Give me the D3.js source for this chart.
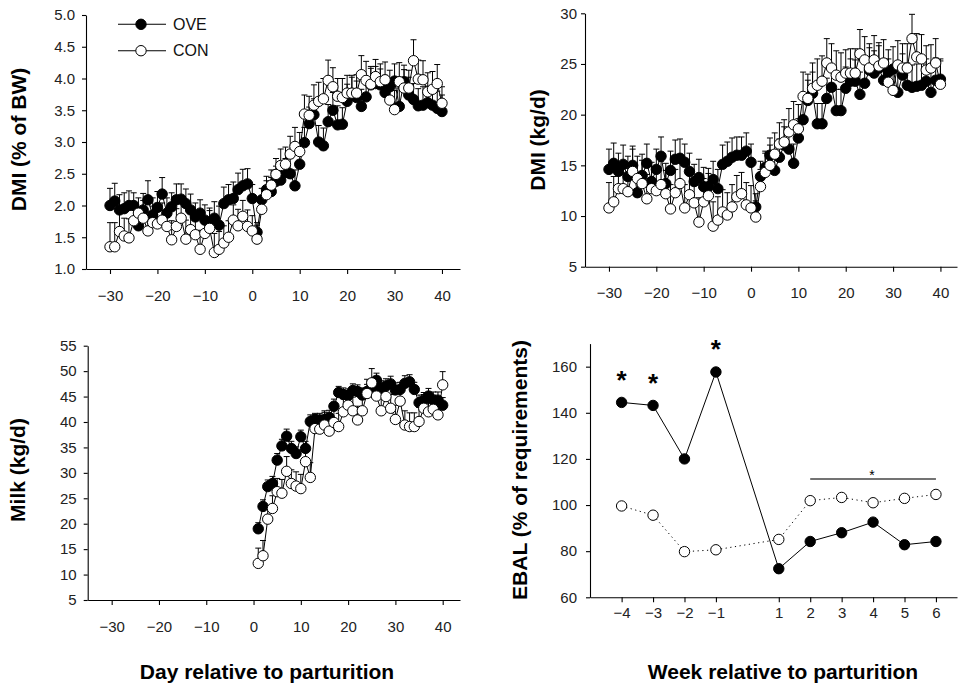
<!DOCTYPE html>
<html>
<head>
<meta charset="utf-8">
<script src="https://cdn.jsdelivr.net/npm/d3@7"></script>
<style>
  html, body { margin: 0; padding: 0; background: #fff; }
  svg { display: block; font-family: "Liberation Sans", Arial, Helvetica, sans-serif; }
  .tick text { fill: #222; }
</style>
</head>
<body>
<svg id="chart" width="958" height="684"></svg>
<script>
// Days relative to parturition
const daysAll = d3.range(-30, 41);   // -30 .. 40
const daysPost = d3.range(1, 41);    // 1 .. 40

// DMI, % of body weight
const dmiPctOVE = [
  2.00,2.07,1.93,1.95,2.00,2.00,1.68,1.93,2.09,1.85,
  1.97,2.18,1.88,1.98,2.09,2.10,2.03,1.93,1.82,1.88,
  1.77,1.74,1.80,1.69,2.03,2.09,2.11,2.25,2.31,2.34,
  2.11,1.58,2.09,2.25,2.22,2.38,2.40,2.52,2.50,2.31,
  2.65,2.99,3.29,3.43,3.00,2.94,3.32,3.50,3.27,3.28,
  3.64,3.75,3.70,3.56,3.71,3.90,3.92,3.90,3.78,3.87,
  3.96,3.56,3.95,3.74,3.67,3.57,3.58,3.62,3.58,3.53,
  3.48];
const dmiPctCON = [
  1.35,1.35,1.59,1.52,1.49,1.76,1.88,1.80,1.60,1.73,
  1.71,1.77,1.67,1.46,1.67,1.80,1.47,1.62,1.54,1.31,
  1.56,1.64,1.26,1.31,1.41,1.50,1.77,1.68,1.83,1.67,
  1.60,1.47,1.94,2.17,2.32,2.49,2.63,2.65,2.81,2.93,
  2.85,3.44,3.42,3.58,3.64,3.68,3.97,3.87,3.72,3.70,
  3.77,3.77,3.77,4.06,3.97,3.91,4.03,3.95,3.98,3.66,
  3.51,3.95,3.85,3.85,4.28,3.99,3.98,3.79,3.83,3.92,
  3.61];
const dmiPctSeOVE = [
  0.27,0.28,0.24,0.25,0.23,0.20,0.24,0.26,0.30,0.27,
  0.25,0.26,0.24,0.22,0.25,0.24,0.23,0.25,0.22,0.21,
  0.24,0.22,0.26,0.30,0.26,0.24,0.26,0.26,0.26,0.24,
  0.22,0.15,0.18,0.21,0.22,0.24,0.23,0.22,0.24,0.25,
  0.22,0.24,0.26,0.25,0.26,0.28,0.27,0.28,0.30,0.26,
  0.27,0.27,0.26,0.27,0.28,0.26,0.27,0.25,0.27,0.26,
  0.27,0.29,0.26,0.28,0.25,0.27,0.29,0.26,0.28,0.27,
  0.26];
const dmiPctSeCON = [
  0.38,0.38,0.30,0.28,0.30,0.26,0.24,0.28,0.30,0.26,
  0.28,0.27,0.26,0.30,0.28,0.26,0.30,0.27,0.28,0.30,
  0.26,0.28,0.30,0.28,0.27,0.26,0.24,0.26,0.25,0.26,
  0.24,0.22,0.20,0.22,0.24,0.25,0.26,0.27,0.28,0.30,
  0.30,0.30,0.30,0.32,0.30,0.32,0.32,0.30,0.28,0.30,
  0.28,0.28,0.29,0.30,0.30,0.28,0.27,0.28,0.28,0.30,
  0.30,0.30,0.29,0.28,0.33,0.30,0.30,0.30,0.28,0.30,
  0.26];

// DMI, kg/d
const dmiKgOVE = [
  14.6,15.2,14.4,15.1,13.9,15.0,12.3,14.0,15.2,13.4,
  14.6,15.9,13.2,14.5,15.6,15.7,15.3,14.4,13.4,13.8,
  12.9,12.9,13.6,12.7,15.1,15.4,15.8,16.0,16.0,16.4,
  15.3,10.9,13.9,14.8,16.0,14.5,15.8,17.0,16.6,15.2,
  17.7,19.5,21.4,22.1,19.1,19.1,21.6,22.7,20.4,20.4,
  22.6,23.3,23.3,22.0,23.1,24.4,24.1,24.6,23.4,24.2,
  24.5,22.2,23.9,22.9,22.7,22.8,22.9,23.3,22.2,23.4,
  23.5];
const dmiKgCON = [
  10.8,11.4,12.7,12.7,12.4,14.4,13.7,13.2,11.7,12.7,
  12.5,13.1,12.2,10.7,12.3,13.2,10.8,12.1,11.3,9.4,
  11.4,12.0,9.0,9.6,10.4,10.1,10.9,11.9,12.2,11.1,
  10.8,9.9,12.9,14.3,15.0,16.1,17.1,17.3,18.3,19.0,
  18.6,21.8,21.6,22.6,22.9,23.3,25.1,24.6,23.9,23.7,
  24.1,24.1,24.1,26.0,25.4,24.6,25.4,24.8,25.1,23.2,
  22.4,24.9,24.6,24.6,27.5,25.7,25.5,24.4,24.6,25.1,
  23.0];
const dmiKgSeOVE = [
  2.0,2.0,1.8,1.9,2.0,1.9,2.0,2.1,1.9,1.9,
  2.0,1.9,2.0,1.9,1.9,1.9,1.8,1.8,1.7,1.8,
  1.9,1.8,1.8,1.9,1.9,1.9,1.9,1.8,1.8,1.8,
  1.8,1.3,1.5,1.6,1.7,1.8,1.8,1.8,1.9,1.9,
  1.9,1.9,2.0,2.1,2.0,2.0,2.0,2.1,2.1,2.1,
  2.1,2.2,2.1,2.2,2.2,2.2,2.2,2.2,2.1,2.2,
  2.2,2.2,2.1,2.2,2.2,2.2,2.2,2.2,2.1,2.2,
  2.0];
const dmiKgSeCON = [
  2.5,2.5,2.3,2.2,2.3,2.2,2.2,2.3,2.4,2.2,
  2.2,2.3,2.3,2.4,2.3,2.2,2.3,2.2,2.3,2.4,
  2.3,2.2,2.4,2.3,2.2,2.2,2.2,2.1,2.1,2.2,
  2.2,1.6,1.7,1.9,2.0,2.1,2.1,2.2,2.3,2.3,
  2.4,2.4,2.4,2.5,2.6,2.5,2.4,2.4,2.4,2.4,
  2.3,2.4,2.4,2.4,2.3,2.4,2.4,2.3,2.3,2.3,
  2.3,2.4,2.4,2.4,2.4,2.3,2.4,2.4,2.3,2.4,
  2.3];

// Milk yield, kg/d (days 1..40)
const milkOVE = [
  19.0,23.4,27.3,27.9,32.5,35.3,37.2,34.8,33.8,37.1,
  34.8,40.1,40.5,40.4,40.5,40.9,43.1,45.8,45.4,45.2,
  46.2,46.0,45.3,46.0,46.6,48.2,46.6,47.1,47.5,46.3,
  46.4,47.6,47.9,46.4,43.8,44.3,45.1,44.3,44.3,43.3];
const milkCON = [
  12.2,13.7,20.9,23.0,26.3,26.0,30.3,27.9,27.4,26.9,
  32.2,29.1,38.7,38.6,39.4,38.2,39.9,39.1,42.0,43.3,
  42.2,40.4,42.2,45.6,47.7,45.1,42.2,45.0,42.7,40.5,
  44.1,39.4,39.1,39.1,40.1,42.7,42.0,42.5,41.4,47.3];
const milkSeOVE = [
  1.2,1.3,1.3,1.4,1.3,1.3,1.4,1.4,1.3,1.3,
  1.4,1.3,1.2,1.3,1.4,1.4,1.4,1.2,1.3,1.3,
  1.3,1.3,1.4,1.4,1.5,1.4,1.5,1.4,1.5,1.4,
  1.4,1.5,1.4,1.4,1.5,1.5,1.5,1.6,1.6,1.5];
const milkSeCON = [
  3.0,3.0,2.6,2.5,2.6,2.7,2.9,2.7,2.8,2.8,
  2.8,2.9,2.7,2.7,2.8,2.7,2.7,2.6,2.6,2.7,
  2.7,2.7,2.7,2.8,2.8,2.6,2.7,2.8,2.7,2.8,
  2.8,2.8,2.7,2.7,2.8,2.7,2.8,2.8,2.8,2.6];

// Energy balance by week
const weeks = [-4, -3, -2, -1, 1, 2, 3, 4, 5, 6];
const ebalOVE = [144.5, 143.2, 120.0, 157.7, 72.4, 84.2, 88.0, 92.6, 82.8, 84.2];
const ebalCON = [99.6, 95.6, 79.8, 80.6, 85.1, 101.9, 103.3, 101.0, 102.9, 104.6];
const starWeeks = [-4, -3, -1];

// Tick labels
const dayTicks = [-30, -20, -10, 0, 10, 20, 30, 40];
const dmiPctTicks = [1.0, 1.5, 2.0, 2.5, 3.0, 3.5, 4.0, 4.5, 5.0];
const dmiKgTicks = [5, 10, 15, 20, 25, 30];
const milkTicks = [5, 10, 15, 20, 25, 30, 35, 40, 45, 50, 55];
const ebalTicks = [60, 80, 100, 120, 140, 160];
const seriesNames = ["OVE", "CON"];

const svg = d3.select("#chart");
const R = 5.2;

function zip(xs, ys, se) {
  return xs.map((x, i) => ({ x, y: ys[i], se: se ? se[i] : 0 }));
}

function axes(g, x, y, o) {
  const xa = g.append("g")
    .attr("transform", `translate(0,${y.range()[0]})`)
    .call(d3.axisBottom(x).tickValues(o.xTicks).tickSize(5).tickSizeOuter(0)
      .tickPadding(o.xPad).tickFormat(d3.format("d")));
  const ya = g.append("g")
    .attr("transform", `translate(${x.range()[0]},0)`)
    .call(d3.axisLeft(y).tickValues(o.yTicks).tickSize(4).tickSizeOuter(0)
      .tickPadding(o.yPad).tickFormat(o.yFmt));
  [xa, ya].forEach(a => {
    a.selectAll("text").style("font-size", "15px");
    a.selectAll("path, line").attr("stroke", "#000").attr("stroke-width", 1.1);
  });
}

function series(g, x, y, pts, filled, dashed) {
  // upward error bars
  const eb = g.append("g").attr("stroke", "#000").attr("stroke-width", 1);
  pts.filter(p => p.se > 0).forEach(p => {
    const cx = x(p.x), y0 = y(p.y), y1 = y(p.y + p.se);
    eb.append("line").attr("x1", cx).attr("x2", cx).attr("y1", y0).attr("y2", y1);
    eb.append("line").attr("x1", cx - 3).attr("x2", cx + 3).attr("y1", y1).attr("y2", y1);
  });
  g.append("path").datum(pts)
    .attr("fill", "none").attr("stroke", "#000").attr("stroke-width", 1)
    .attr("stroke-dasharray", dashed ? "1.2,3.5" : null)
    .attr("d", d3.line().x(p => x(p.x)).y(p => y(p.y)));
  g.append("g").selectAll("circle").data(pts).join("circle")
    .attr("cx", p => x(p.x)).attr("cy", p => y(p.y)).attr("r", R)
    .attr("fill", filled ? "#000" : "#fff")
    .attr("stroke", "#000").attr("stroke-width", 1);
}

function yTitle(text, cx, cy) {
  svg.append("text")
    .attr("transform", `translate(${cx},${cy}) rotate(-90)`)
    .attr("text-anchor", "middle").attr("dy", "0.35em")
    .style("font-size", "21px").style("font-weight", "bold")
    .text(text);
}
function xTitle(text, cx, cy) {
  svg.append("text").attr("x", cx).attr("y", cy)
    .attr("text-anchor", "middle").attr("dy", "0.35em")
    .style("font-size", "21px").style("font-weight", "bold")
    .text(text);
}

// Panel: DMI (% of BW)
{
  const x = d3.scaleLinear().domain([-35.06, 43.8]).range([86, 460]);
  const y = d3.scaleLinear().domain([1, 5]).range([269, 15]);
  const g = svg.append("g");
  axes(g, x, y, { xTicks: dayTicks, yTicks: dmiPctTicks, xPad: 16, yPad: 7, yFmt: d3.format(".1f") });
  series(g, x, y, zip(daysAll, dmiPctOVE, dmiPctSeOVE), true, false);
  series(g, x, y, zip(daysAll, dmiPctCON, dmiPctSeCON), false, false);

  // legend
  const lg = svg.append("g");
  seriesNames.forEach((name, i) => {
    const ly = 24.3 + i * 26.4;
    lg.append("line").attr("x1", 118).attr("x2", 166).attr("y1", ly).attr("y2", ly)
      .attr("stroke", "#000").attr("stroke-width", 1.1);
    lg.append("circle").attr("cx", 141).attr("cy", ly).attr("r", R)
      .attr("fill", i === 0 ? "#000" : "#fff").attr("stroke", "#000");
    lg.append("text").attr("x", 173).attr("y", ly).attr("dy", "0.36em")
      .style("font-size", "16px").style("fill", "#111").text(name);
  });
  yTitle("DMI (% of BW)", 18.5, 139.5);
}

// Panel: DMI (kg/d)
{
  const x = d3.scaleLinear().domain([-35.06, 43.5]).range([585, 957]);
  const y = d3.scaleLinear().domain([5, 30]).range([266.7, 13.3]);
  const g = svg.append("g");
  axes(g, x, y, { xTicks: dayTicks, yTicks: dmiKgTicks, xPad: 16, yPad: 4, yFmt: d3.format("d") });
  series(g, x, y, zip(daysAll, dmiKgOVE, dmiKgSeOVE), true, false);
  series(g, x, y, zip(daysAll, dmiKgCON, dmiKgSeCON), false, false);
  yTitle("DMI (kg/d)", 538, 140);
}

// Panel: Milk (kg/d)
{
  const x = d3.scaleLinear().domain([-35.07, 43.66]).range([87.7, 460]);
  const y = d3.scaleLinear().domain([5, 55]).range([600, 345.7]);
  const g = svg.append("g");
  axes(g, x, y, { xTicks: dayTicks, yTicks: milkTicks, xPad: 16, yPad: 7, yFmt: d3.format("d") });
  series(g, x, y, zip(daysPost, milkOVE, milkSeOVE), true, false);
  series(g, x, y, zip(daysPost, milkCON, milkSeCON), false, false);
  yTitle("Milk (kg/d)", 18, 470);
  xTitle("Day relative to parturition", 267, 672);
}

// Panel: EBAL (% of requirements)
{
  const x = d3.scaleLinear().domain([-5.006, 6.67]).range([590, 957]);
  const y = d3.scaleLinear().domain([60, 170]).range([597.3, 343.6]);
  const g = svg.append("g");
  axes(g, x, y, { xTicks: weeks, yTicks: ebalTicks, xPad: 5, yPad: 9, yFmt: d3.format("d") });
  series(g, x, y, zip(weeks, ebalCON), false, true);
  series(g, x, y, zip(weeks, ebalOVE), true, false);

  // significance markers
  starWeeks.forEach(w => {
    const v = ebalOVE[weeks.indexOf(w)];
    g.append("text").attr("x", x(w)).attr("y", y(v) - 13.5)
      .attr("text-anchor", "middle")
      .style("font-size", "26px").style("font-weight", "bold").text("*");
  });
  g.append("line").attr("x1", x(2)).attr("x2", x(6)).attr("y1", 479).attr("y2", 479)
    .attr("stroke", "#444").attr("stroke-width", 1.5);
  g.append("text").attr("x", x(4) - 1).attr("y", 479.5).attr("text-anchor", "middle")
    .style("font-size", "14px").text("*");

  yTitle("EBAL (% of requirements)", 520, 470);
  xTitle("Week relative to parturition", 783, 672);
}
</script>
</body>
</html>
